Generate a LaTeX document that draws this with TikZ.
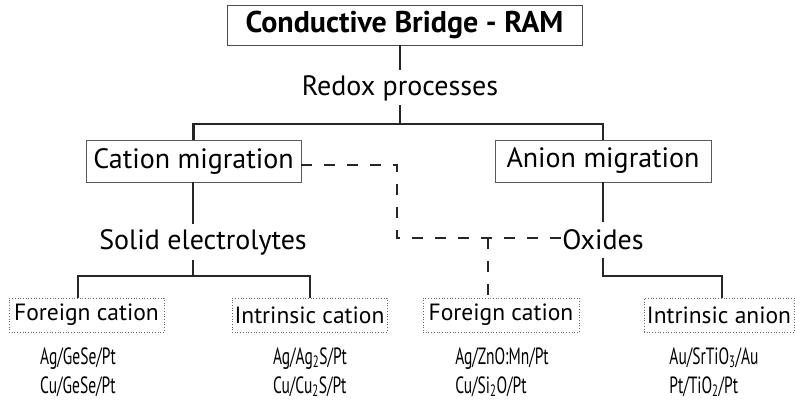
\documentclass[tikz,border=0pt]{standalone}
\usepackage{fontspec}
\setmainfont{PT Sans}
\newfontfamily\matfont[FakeStretch=0.66]{PT Sans}
\begin{document}
\begin{tikzpicture}[x=1pt,y=-1pt,
  every node/.style={inner sep=0pt,outer sep=0pt},
  titlebox/.style={draw=black!70,line width=0.9pt,minimum width=355pt,minimum height=40pt,
    font=\fontsize{30}{32}\selectfont\bfseries},
  migbox/.style={draw=black!65,line width=0.9pt,minimum height=42pt,
    font=\fontsize{28}{30}\selectfont},
  leaflabel/.style={minimum height=36pt,font=\fontsize{28}{30}\selectfont},
  dotbox/.style={draw=black!60,dotted,line width=0.7pt,minimum height=34pt,
    font=\fontsize{23.5}{26}\selectfont},
  material/.style={align=left,font=\matfont\fontsize{23.5}{29}\selectfont},
  tree/.style={draw=black!85,line width=2.6pt},
  link/.style={draw=black!85,line width=1.4pt,dash pattern=on 11pt off 12pt}]
\useasboundingbox (0,0) rectangle (795,401);

% top level
\node[titlebox] (title) at (404.5,25) {Conductive Bridge - RAM};
\node[leaflabel,minimum height=35pt] (redox) at (400,88) {Redox processes};

% migration mechanisms
\node[migbox,minimum width=215pt] (cat) at (193.5,161) {Cation migration};
\node[migbox,minimum width=216pt] (an) at (603,161) {Anion migration};

% material classes
\node[leaflabel] (solid) at (203,242) {Solid electrolytes};
\node[leaflabel] (oxides) at (603,240) {Oxides};

% ion species
\node[dotbox,minimum width=155pt] (fc1) at (86.5,315) {Foreign cation};
\node[dotbox,minimum width=155pt] (ic1) at (309.5,315) {Intrinsic cation};
\node[dotbox,minimum width=156pt] (fc2) at (501,315) {Foreign cation};
\node[dotbox,minimum width=150pt] (ia2) at (719,315) {Intrinsic anion};

% example stacks
\node[material] (m1) at (78,372) {Ag/GeSe/Pt\\Cu/GeSe/Pt};
\node[material] (m2) at (310,372) {Ag/Ag\textsubscript{2}S/Pt\\Cu/Cu\textsubscript{2}S/Pt};
\node[material] (m3) at (502,372) {Ag/ZnO:Mn/Pt\\Cu/Si\textsubscript{2}O/Pt};
\node[material] (m4) at (714,372) {Au/SrTiO\textsubscript{3}/Au\\Pt/TiO\textsubscript{2}/Pt};

% junction points of the tree
\coordinate (j1) at (400,124);
\coordinate (j2) at (193,276);
\coordinate (j3) at (603,276);
\coordinate (r2) at (722,276);
\coordinate (d1) at (397,165);
\coordinate (d2) at (397,238);
\coordinate (d3) at (488,238);

% solid connectors
\draw[tree] (title.south -| redox.north) -- (redox.north);
\draw[tree] (redox.south) -- (j1);
\draw[tree] (cat.north) |- (j1) -| (an.north);
\draw[tree] (cat.south -| j2) -- (solid.north -| j2);
\draw[tree] (solid.south -| j2) -- (j2);
\draw[tree] (m1.north |- fc1.north) |- (j2) -| (m2.north |- ic1.north);
\draw[tree] (an.south) -- (oxides.north);
\draw[tree] (oxides.south) -- (j3) -| (ia2.north -| r2);

% dashed cross-link
\draw[link] (cat.east |- d1) -- (d1) -- (d2) -- ([xshift=-1pt]oxides.west |- d2);
\draw[link] (d3) -- (fc2.north -| d3);
\end{tikzpicture}
\end{document}
